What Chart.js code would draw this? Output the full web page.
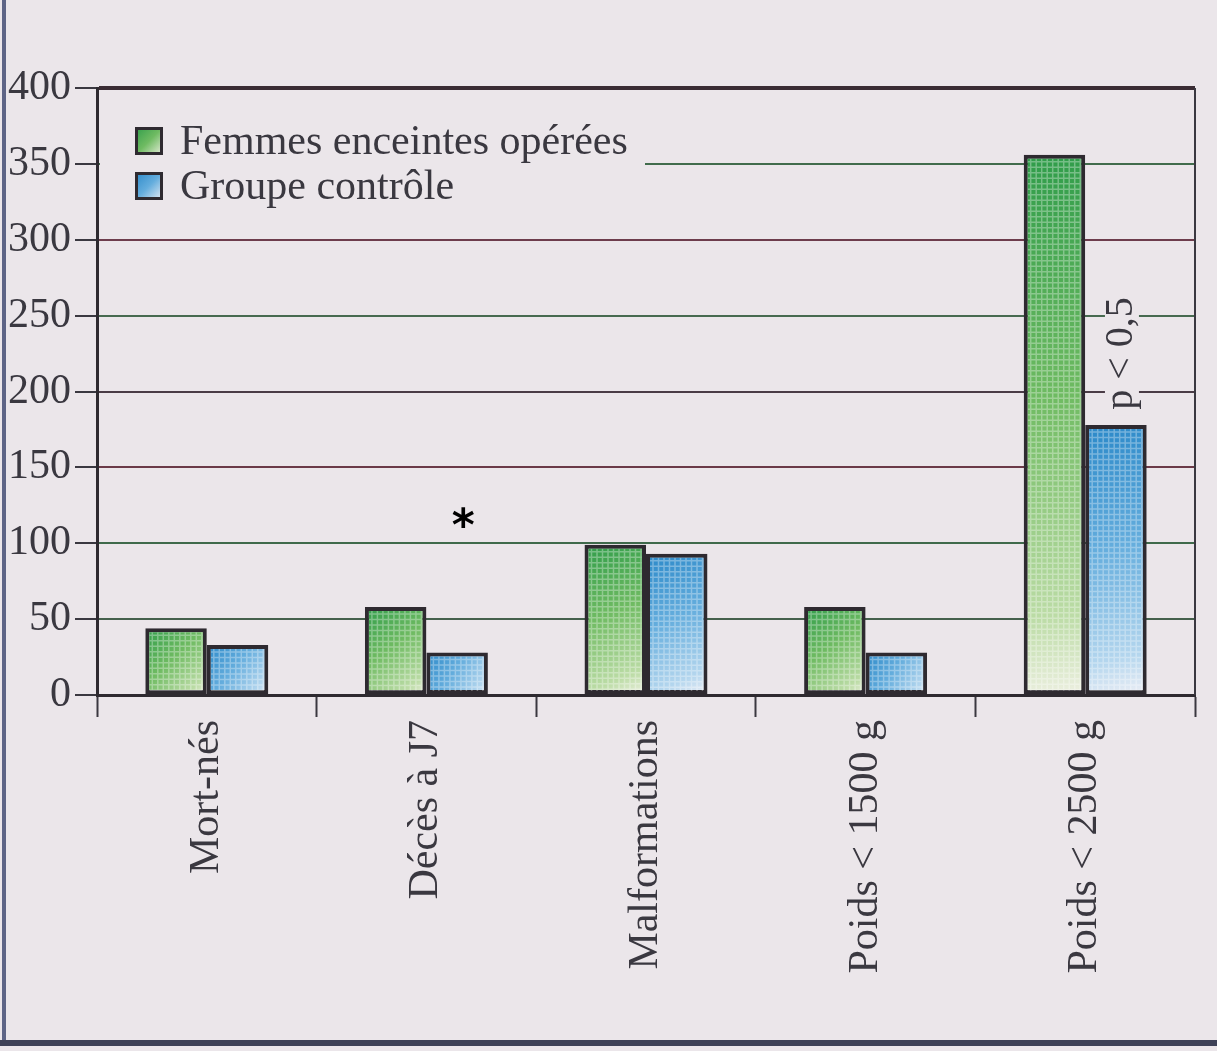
<!DOCTYPE html>
<html lang="fr">
<head>
<meta charset="utf-8">
<title>Issues de grossesse</title>
<script src="https://cdn.jsdelivr.net/npm/chart.js"></script>
<style>
  html, body { margin: 0; padding: 0; background: #ebe6ea; }
  #wrap { position: relative; width: 1217px; height: 1051px; overflow: hidden; }
  #leftEdge { position: absolute; left: 2px; top: 0; width: 4px; height: 1045px; background: #5e6486; }
  #bottomEdge { position: absolute; left: 0; top: 1040px; width: 1217px; height: 6px; background: #3e4157; }
</style>
</head>
<body>
<div id="wrap">
  <canvas id="chart" width="1217" height="1051"></canvas>
  <div id="leftEdge"></div>
  <div id="bottomEdge"></div>
</div>
<script>
const categories = ['Mort-nés', 'Décès à J7', 'Malformations', 'Poids < 1500 g', 'Poids < 2500 g'];
const operees = [44, 58, 99, 58, 356];
const controle = [33, 28, 93, 28, 178];
const seriesNames = ['Femmes enceintes opérées', 'Groupe contrôle'];
const yTicks = [0, 50, 100, 150, 200, 250, 300, 350, 400];

const BG = '#ebe6ea';
const INK = '#3a3840';
const EDGE = '#2e2a30';
const SERIF = '"Liberation Serif", "DejaVu Serif", serif';
const FONT_SIZE = 42;
const CAT_PCT = 0.56;

// gridline tints, like the scan
const gridTints = ['#3a3236', '#45604c', '#3f6a4b', '#6b3a48', '#4a3c46', '#476a50', '#6d3c4c', '#416c4c', '#3a2c34'];

const palettes = [
  ['#2f9c4a', '#6fbb62', '#bcdca6', '#eef0e2'],
  ['#2a88c8', '#64addd', '#b4d6ee', '#eeeff5']
];

function barFill(ctx) {
  const chart = ctx.chart;
  const xs = chart.scales.x, ys = chart.scales.y;
  const p = palettes[ctx.datasetIndex];
  if (!xs || !ys || ctx.raw === undefined) return p[1];
  const cx = xs.getPixelForValue(ctx.dataIndex);
  const catW = xs.width / categories.length;
  const half = catW * CAT_PCT / 2;
  const left = ctx.datasetIndex === 0 ? cx - half : cx;
  const right = left + half;
  const top = ys.getPixelForValue(ctx.raw);
  const bottom = ys.getPixelForValue(0);
  if (![left, right, top, bottom].every(Number.isFinite) || right <= left) return p[1];
  const g = chart.ctx.createLinearGradient(left, top, right, bottom);
  g.addColorStop(0, p[0]);
  g.addColorStop(0.45, p[1]);
  g.addColorStop(0.85, p[2]);
  g.addColorStop(1, p[3]);
  return g;
}

function legendFill(c, i, x, y, s) {
  const g = c.createLinearGradient(x, y, x + s, y + s);
  const p = palettes[i];
  g.addColorStop(0, p[0]);
  g.addColorStop(0.5, p[1]);
  g.addColorStop(1, p[3]);
  return g;
}

const decorPlugin = {
  id: 'decor',
  beforeDatasetsDraw(chart) {
    const c = chart.ctx, a = chart.chartArea;
    c.save();
    // right frame line
    c.strokeStyle = INK;
    c.lineWidth = 2;
    c.beginPath();
    c.moveTo(a.right, a.top);
    c.lineTo(a.right, a.bottom);
    c.stroke();
    // legend box inside plot
    c.fillStyle = BG;
    c.fillRect(a.left + 3, a.top + 22, 545, 100);
    c.font = FONT_SIZE + 'px ' + SERIF;
    c.textBaseline = 'alphabetic';
    chart.data.datasets.forEach((ds, i) => {
      const sx = a.left + 38, sy = a.top + 39 + i * 45, s = 28;
      c.fillStyle = legendFill(c, i, sx, sy, s);
      c.fillRect(sx, sy, s, s);
      c.strokeStyle = EDGE;
      c.lineWidth = 3;
      c.strokeRect(sx + 1.5, sy + 1.5, s - 3, s - 3);
      c.fillStyle = INK;
      c.fillText(ds.label, a.left + 83, sy + 27);
    });
    c.restore();
  },
  afterDatasetsDraw(chart) {
    const c = chart.ctx;
    const ys = chart.scales.y;
    c.save();
    // checker texture on bars
    chart.data.datasets.forEach((ds, di) => {
      chart.getDatasetMeta(di).data.forEach(el => {
        const p = el.getProps(['x', 'y', 'base', 'width'], true);
        const l = p.x - p.width / 2 + 4, r = p.x + p.width / 2 - 4;
        const t = p.y + 4, b = p.base - 3;
        c.save();
        c.beginPath();
        c.rect(l, t, r - l, b - t);
        c.clip();
        c.strokeStyle = 'rgba(255,255,255,0.33)';
        c.lineWidth = 1.5;
        c.beginPath();
        for (let x = l + 3; x < r; x += 5.5) { c.moveTo(x, t); c.lineTo(x, b); }
        for (let y = t + 3; y < b; y += 5.5) { c.moveTo(l, y); c.lineTo(r, y); }
        c.stroke();
        c.restore();
      });
    });
    // asterisk above the control bar of "Décès à J7"
    const m1 = chart.getDatasetMeta(1).data;
    c.fillStyle = '#000';
    c.font = 'bold 44px "DejaVu Sans", sans-serif';
    c.textAlign = 'center';
    c.textBaseline = 'middle';
    c.fillText('*', m1[1].x + 6, ys.getPixelForValue(110));
    // p < 0,5 rotated label above control bar of "Poids < 2500 g"
    const px = m1[4].x + 6, py = ys.getPixelForValue(225);
    c.translate(px, py);
    c.rotate(-Math.PI / 2);
    c.font = '40px ' + SERIF;
    const w = c.measureText('p < 0,5').width;
    c.fillStyle = BG;
    c.fillRect(-w / 2 - 6, -17, w + 12, 34);
    c.fillStyle = INK;
    c.fillText('p < 0,5', 0, 0);
    c.restore();
  }
};

const barStyle = {
  categoryPercentage: CAT_PCT,
  barPercentage: 1,
  backgroundColor: barFill,
  borderColor: EDGE,
  borderWidth: 4,
  borderSkipped: false
};

new Chart(document.getElementById('chart'), {
  type: 'bar',
  data: {
    labels: categories,
    datasets: [
      Object.assign({ label: seriesNames[0], data: operees }, barStyle),
      Object.assign({ label: seriesNames[1], data: controle }, barStyle)
    ]
  },
  options: {
    responsive: false,
    animation: false,
    devicePixelRatio: 1,
    layout: { padding: { top: 88, right: 22, left: 0, bottom: 0 } },
    plugins: {
      colors: { enabled: false },
      legend: { display: false },
      tooltip: { enabled: false }
    },
    scales: {
      x: {
        afterFit(scale) { scale.height = 356; },
        grid: {
          offset: true,
          drawOnChartArea: false,
          drawTicks: true,
          tickLength: 22,
          tickColor: INK,
          tickWidth: 2
        },
        border: { display: true, color: EDGE, width: 3 },
        ticks: {
          maxRotation: 90,
          minRotation: 90,
          padding: 3,
          color: INK,
          font: { family: SERIF, size: FONT_SIZE }
        }
      },
      y: {
        min: 0,
        max: 400,
        afterFit(scale) { scale.width = 97; },
        afterBuildTicks(scale) { scale.ticks = yTicks.map(v => ({ value: v })); },
        grid: {
          color: ctx => gridTints[ctx.index] || INK,
          lineWidth: ctx => (ctx.tick && ctx.tick.value === 400 ? 4 : 2),
          drawTicks: true,
          tickLength: 22,
          tickColor: INK,
          tickWidth: 2
        },
        border: { display: true, color: EDGE, width: 3 },
        ticks: {
          padding: 4,
          color: INK,
          font: { family: SERIF, size: FONT_SIZE }
        }
      }
    }
  },
  plugins: [decorPlugin]
});
</script>
</body>
</html>
